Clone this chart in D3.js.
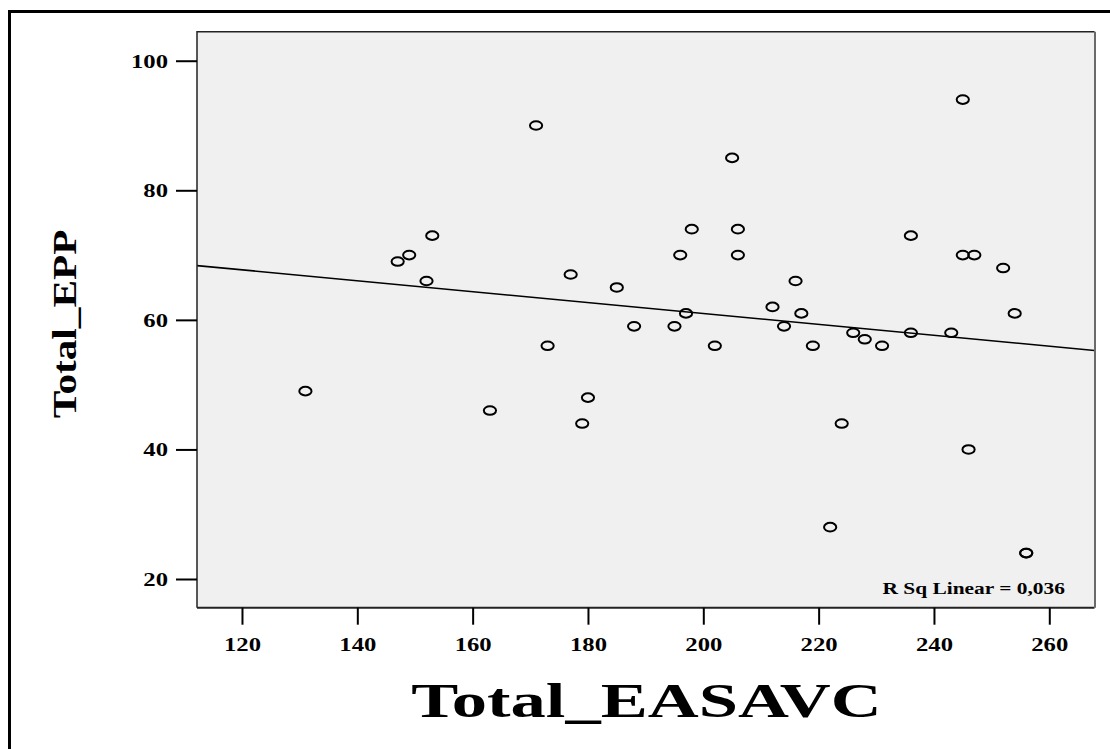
<!DOCTYPE html>
<html><head><meta charset="utf-8">
<script src="https://cdn.jsdelivr.net/npm/d3@7"></script>
<style>html,body{margin:0;padding:0;background:#fff;} svg{display:block;}</style>
</head><body><svg id="chart" width="1110" height="749"></svg>
<script>
// ---- data ----
const totalEASAVC = [131,147,149,152,153,163,171,173,177,179,180,185,188,195,196,197,198,202,205,206,206,212,214,216,217,219,222,224,226,228,231,236,236,243,245,245,246,247,252,254,256,256];
const totalEPP    = [ 49, 69, 70, 66, 73, 46, 90, 56, 67, 44, 48, 65, 59, 59, 70, 61, 74, 56, 85, 74, 70, 62, 59, 66, 61, 56, 28, 44, 58, 57, 56, 73, 58, 58, 94, 70, 40, 70, 68, 61, 24, 24];
const xTicks = [120,140,160,180,200,220,240,260];
const yTicks = [20,40,60,80,100];
const xDomain = [112.2, 267.84];
const yDomain = [15.57, 104.48];
const xTitle = "Total_EASAVC";
const yTitle = "Total_EPP";
const rSqLabel = "R Sq Linear = 0,036";

// ---- layout ----
const W = 1110, H = 749;
const plot = {left:197, right:1094.5, top:31.7, bottom:607.7};
const FONT = "'Liberation Serif','Times New Roman',serif";

const svg = d3.select("#chart");
const x = d3.scaleLinear().domain(xDomain).range([plot.left, plot.right]);
const y = d3.scaleLinear().domain(yDomain).range([plot.bottom, plot.top]);

// outer frame (cut off at right/bottom)
svg.append("path")
  .attr("d", `M9.5,${H+5} L9.5,11.5 L${W+5},11.5`)
  .attr("fill","none").attr("stroke","#000").attr("stroke-width",3);

// plot background
svg.append("rect")
  .attr("x",plot.left).attr("y",plot.top)
  .attr("width",plot.right-plot.left).attr("height",plot.bottom-plot.top)
  .attr("fill","#f0f0f0");

svg.append("clipPath").attr("id","clip").append("rect")
  .attr("x",plot.left).attr("y",plot.top)
  .attr("width",plot.right-plot.left).attr("height",plot.bottom-plot.top);

// regression line (OLS from data)
const pts = totalEASAVC.map((v,i)=>({x:v,y:totalEPP[i]}));
const mx = d3.mean(pts,d=>d.x), my = d3.mean(pts,d=>d.y);
const sxy = d3.sum(pts,d=>(d.x-mx)*(d.y-my));
const sxx = d3.sum(pts,d=>(d.x-mx)*(d.x-mx));
const slope = sxy/sxx, intercept = my - slope*mx;
svg.append("line")
  .attr("clip-path","url(#clip)")
  .attr("x1",x(xDomain[0])).attr("y1",y(intercept+slope*xDomain[0]))
  .attr("x2",x(xDomain[1])).attr("y2",y(intercept+slope*xDomain[1]))
  .attr("stroke","#000").attr("stroke-width",1.6);

// points
svg.append("g").selectAll("ellipse").data(pts).join("ellipse")
  .attr("cx",d=>x(d.x)).attr("cy",d=>y(d.y))
  .attr("rx",6.1).attr("ry",4.3)
  .attr("fill","none").attr("stroke","#000").attr("stroke-width",2);

// plot borders
svg.append("path")
  .attr("d",`M${plot.left},${plot.bottom} L${plot.left},${plot.top} L${plot.right},${plot.top}`)
  .attr("fill","none").attr("stroke","#222").attr("stroke-width",1.5);
svg.append("line")
  .attr("x1",plot.left).attr("x2",plot.right).attr("y1",plot.bottom).attr("y2",plot.bottom)
  .attr("stroke","#222").attr("stroke-width",2);
svg.append("line")
  .attr("x1",plot.right+0.5).attr("x2",plot.right+0.5).attr("y1",plot.top).attr("y2",plot.bottom)
  .attr("stroke","#6a6a6a").attr("stroke-width",2);

// y axis
const gy = svg.append("g").attr("transform",`translate(${plot.left},0)`)
  .call(d3.axisLeft(y).tickValues(yTicks).tickSize(21).tickFormat(d3.format("d")));
gy.select(".domain").remove();
gy.selectAll(".tick line").attr("stroke","#000").attr("stroke-width",2);
gy.selectAll(".tick text")
  .attr("x",0).attr("dy","0.34em")
  .attr("transform","translate(-29,0) scale(1.3,1)")
  .attr("font-family",FONT).attr("font-weight","bold").attr("font-size",19).attr("fill","#000");

// x axis
const gx = svg.append("g").attr("transform",`translate(0,${plot.bottom})`)
  .call(d3.axisBottom(x).tickValues(xTicks).tickSize(17).tickFormat(d3.format("d")));
gx.select(".domain").remove();
gx.selectAll(".tick line").attr("stroke","#000").attr("stroke-width",2);
gx.selectAll(".tick text")
  .attr("y",0).attr("dy","0.71em")
  .attr("transform","translate(0,29.5) scale(1.3,1)")
  .attr("font-family",FONT).attr("font-weight","bold").attr("font-size",19).attr("fill","#000");

// R sq label
svg.append("text")
  .attr("transform","translate(1065,593.5) scale(1.26,1)")
  .attr("text-anchor","end")
  .attr("font-family",FONT).attr("font-weight","bold").attr("font-size",17)
  .text(rSqLabel);

// axis titles
svg.append("text")
  .attr("transform","translate(881.7,717) scale(1.47,1)")
  .attr("text-anchor","end")
  .attr("font-family",FONT).attr("font-weight","bold").attr("font-size",48)
  .text(xTitle);
svg.append("text")
  .attr("transform","translate(76,324) rotate(-90) scale(1.25,1)")
  .attr("text-anchor","middle")
  .attr("font-family",FONT).attr("font-weight","bold").attr("font-size",33)
  .text(yTitle);
</script></body></html>
